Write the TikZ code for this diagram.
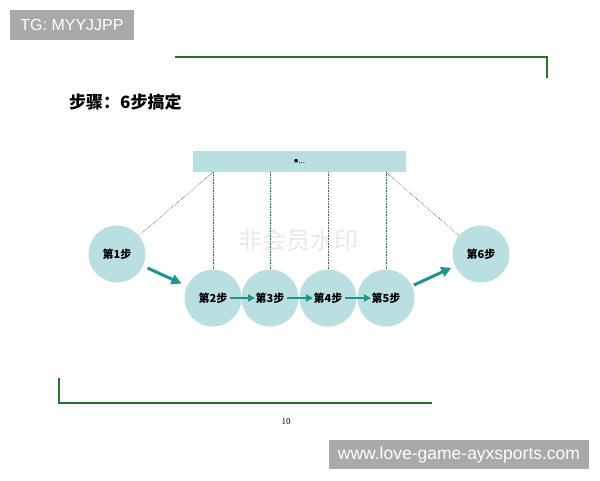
\documentclass[tikz,border=0pt]{standalone}
\usepackage{fontspec}
\setmainfont{Liberation Serif}
\setsansfont{Liberation Sans}
\newfontfamily\cjk{Noto Sans CJK SC}
\usetikzlibrary{arrows.meta}
\definecolor{ballfill}{HTML}{B9DFE0}
\definecolor{arrowteal}{HTML}{1E958C}
\definecolor{framegreen}{HTML}{2F6F2F}
\definecolor{tagfill}{HTML}{A9A9A9}
\begin{document}
\begin{tikzpicture}[x=1pt,y=-1pt,every node/.style={inner sep=0pt},
  ball/.style={circle, fill=ballfill, minimum size=57pt, font=\cjk\bfseries\fontsize{11}{11}\selectfont},
  string/.style={densely dotted, gray!55!teal!80!black, line width=0.6pt},
  bigarrow/.style={arrowteal, line width=3pt, -{Triangle[length=10pt,width=10pt]}},
  smallarrow/.style={arrowteal, line width=1.8pt, -{Triangle[length=7pt,width=7pt]}},
  tag/.style={fill=tagfill, text=white, font=\sffamily\fontsize{16}{16}\selectfont}]
\useasboundingbox[fill=white] (0,0) rectangle (600,480);
\node[tag, minimum width=124pt, minimum height=30pt] (tg) at (72,25) {TG: MYYJJPP};
\node[tag, minimum width=260pt, minimum height=29pt, font=\sffamily\fontsize{17.5}{17.5}\selectfont] (url) at (459,454.5) {www.love-game-ayxsports.com};
\draw[framegreen, line width=1.4pt] (175,57) -- (547,57) -- (547,78);
\draw[framegreen, line width=1.4pt] (59,378) -- (59,403) -- (432,403);
\node[anchor=west, font=\cjk\bfseries\fontsize{17}{17}\selectfont] (title) at (69,102) {步骤：6步搞定};
\node[font=\fontsize{9}{9}\selectfont] (page) at (286,422) {10};
\node[font=\cjk\fontsize{24}{24}\selectfont, text=gray!18] (wm) at (298,240) {非会员水印};
\node[fill=ballfill, minimum width=213pt, minimum height=21pt, font=\fontsize{9}{9}\selectfont] (bar) at (299.5,161.5) {$\bullet$...};
\node[ball] (s1) at (117,254) {第1步};
\node[ball] (s2) at (213,298) {第2步};
\node[ball] (s3) at (270,298) {第3步};
\node[ball] (s4) at (328,298) {第4步};
\node[ball] (s5) at (386,298) {第5步};
\node[ball] (s6) at (481,254) {第6步};
\foreach \s in {2,3,4,5} \draw[string] (bar.south -| s\s.north) -- (s\s.north);
\draw[string] (bar.south -| s2.north) -- (s1.40);
\draw[string] (bar.south -| s5.north) -- (s6.140);
\draw[bigarrow, shorten <=5pt, shorten >=6pt] (s1) -- (s2);
\draw[bigarrow, shorten <=2pt, shorten >=4pt] (s5) -- (s6);
\foreach \a/\b in {2/3, 3/4, 4/5}
  \draw[smallarrow] ([xshift=17pt]s\a.center) -- ([xshift=-15pt]s\b.center);
\end{tikzpicture}
\end{document}
